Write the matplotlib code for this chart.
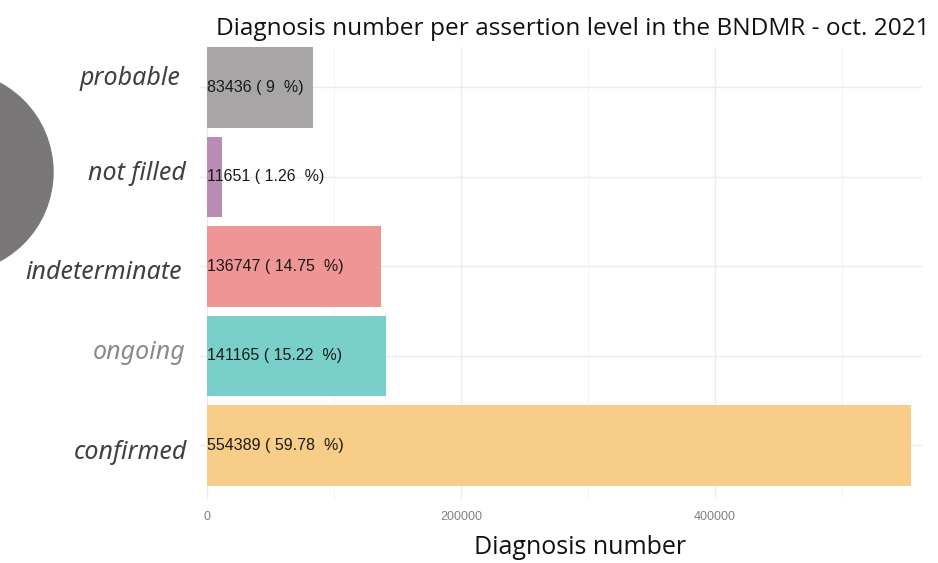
import matplotlib.pyplot as plt
from matplotlib.patches import Ellipse

# data, bottom to top
levels = ['confirmed', 'ongoing', 'indeterminate', 'not filled', 'probable']
counts = [554389, 141165, 136747, 11651, 83436]
percents = ['59.78', '15.22', '14.75', '1.26', '9']
colors = ['#f7cd88', '#79cfca', '#f09595', '#b98bb5', '#a7a5a6']
label_colors = ['#404040', '#8a8a8a', '#404040', '#404040', '#404040']
xticks = [0, 200000, 400000]

fig = plt.figure(figsize=(9.38, 5.63), dpi=100)
ax = fig.add_axes([200/938, 1 - 499/563, 722/938, 452/563])

ypos = list(range(len(levels)))
ax.barh(ypos, counts, height=0.9, color=colors, zorder=2)

for y, c, p in zip(ypos, counts, percents):
    ax.text(0, y, f'{c} ( {p}  %)', ha='left', va='center', fontsize=11.5,
            family='Liberation Sans', color='#1a1a1a', zorder=3)

ax.set_xlim(-5512, 563000)
ax.set_ylim(-0.6, 4.45)

ax.set_xticks(xticks)
ax.set_xticklabels([str(t) for t in xticks], fontsize=9, color='#808080',
                   family='Liberation Sans')
ax.set_xticks([100000, 300000, 500000], minor=True)
ax.set_yticks(ypos)
ax.set_yticklabels([])

# category labels are loose text boxes in the original, slightly shifted
shifts = [(3, -7), (2, 3), (-2, -6), (2, 3), (-4, 9)]
for y, lvl, col, (dx, dy) in zip(ypos, levels, label_colors, shifts):
    ax.annotate(lvl, xy=(0, y), xycoords=ax.get_yaxis_transform(),
                xytext=(-16 + dx, dy), textcoords='offset pixels',
                ha='right', va='center', fontsize=18, style='italic',
                family='Noto Sans', color=col, annotation_clip=False)

ax.tick_params(axis='both', which='both', length=0)
ax.tick_params(axis='x', pad=9)

ax.grid(True, which='major', color='#ebebeb', linewidth=1.0, zorder=0)
ax.grid(True, which='minor', axis='x', color='#f3f3f3', linewidth=0.6, zorder=0)
for s in ax.spines.values():
    s.set_visible(False)

ax.set_xlabel('Diagnosis number', fontsize=18, family='Open Sans', va='center')
ax.xaxis.label.set_color('#111111')
ax.xaxis.set_label_coords((580 - 200) / 722, -49 / 452)

fig.text(930/938, 1 - 29/563, 'Diagnosis number per assertion level in the BNDMR - oct. 2021',
         ha='right', va='center', fontsize=17.6, family='Open Sans', color='#111111')

# gray circle at the left edge
fig.patches.append(Ellipse((-48/938, 1 - 172/563), 202/938, 202/563,
                           transform=fig.transFigure, color='#7a7778', zorder=0))

fig.savefig('out.png', dpi=100)
